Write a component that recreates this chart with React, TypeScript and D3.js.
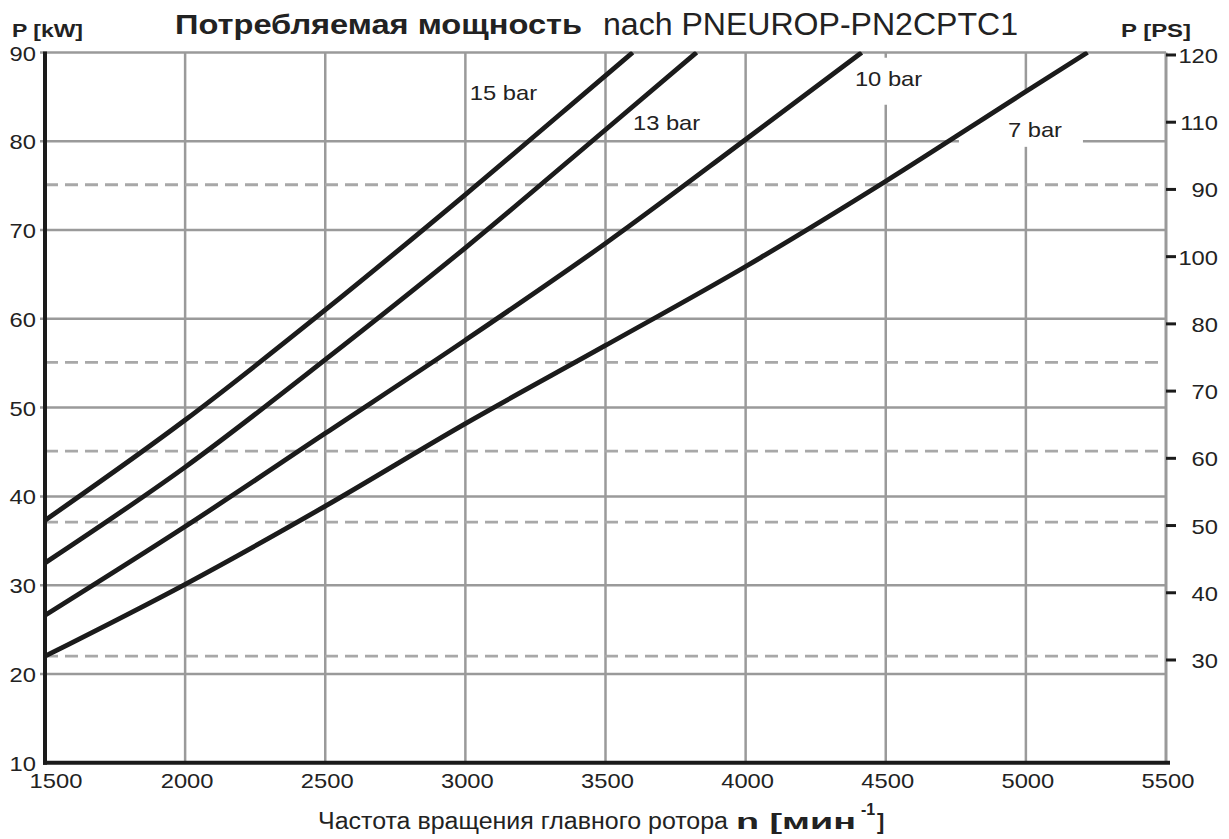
import React from "react";
import * as d3 from "d3";

// ---- data ----
const xTicks = [1500, 2000, 2500, 3000, 3500, 4000, 4500, 5000, 5500];
const kwTicks = [10, 20, 30, 40, 50, 60, 70, 80, 90];
const psTickValues = [120, 110, 100, 90, 80, 70, 60, 50, 40, 30];
const psTickLabels = ["120", "110", "90", "100", "80", "70", "60", "50", "40", "30"];
const dashedKw = [75.1, 55.1, 45.1, 37.1, 22.0];

const rpm7 = [1500, 2000, 2500, 3000, 3500, 4000, 4500, 5000, 5220];
const kw7 = [22.0, 30.1, 38.9, 48.2, 57.0, 65.9, 75.5, 85.6, 90];
const rpm10 = [1500, 2000, 2500, 3000, 3500, 4000, 4414];
const kw10 = [26.6, 36.6, 47.1, 57.6, 68.5, 80.2, 90];
const rpm13 = [1500, 2000, 2500, 3000, 3500, 3825];
const kw13 = [32.5, 43.3, 55.4, 68.0, 81.3, 90];
const rpm15 = [1500, 2000, 2500, 3000, 3500, 3597];
const kw15 = [37.3, 48.6, 61.0, 74.0, 87.4, 90];

const seriesNames = ["15 bar", "13 bar", "10 bar", "7 bar"];
const seriesRpm = [rpm15, rpm13, rpm10, rpm7];
const seriesKw = [kw15, kw13, kw10, kw7];
// label anchor (rpm, kW)
const labelRpm = [3016, 3598, 4390, 4936];
const labelKw = [84.7, 81.3, 86.2, 80.5];

const W = 1229;
const H = 839;
const left = 45;
const right = 1166;
const top = 52.5;
const bottom = 762.7;

const GRID = "#9a9a9a";
const DASH = "#a8a8a8";
const INK = "#1b1b1b";
const FONT = "Arial, 'Liberation Sans', Helvetica, sans-serif";

export default function App() {
  const x = d3.scaleLinear().domain([1500, 5500]).range([left, right]);
  const y = d3.scaleLinear().domain([10, 90]).range([bottom, top]);
  // PS axis positions expressed in kW of the left scale
  const psToKw = d3.scaleLinear().domain([30, 120]).range([21.57, 89.72]);

  const line = d3
    .line<[number, number]>()
    .x((d) => x(d[0]))
    .y((d) => y(d[1]))
    .curve(d3.curveMonotoneX);

  const series = seriesNames.map((name, i) => ({
    name,
    pts: seriesRpm[i].map((r, j) => [r, seriesKw[i][j]] as [number, number]),
    lx: x(labelRpm[i]),
    ly: y(labelKw[i]),
  }));

  const sx = 1.13;

  return (
    <svg
      width={W}
      height={H}
      style={{ position: "absolute", left: 0, top: 0, background: "#fff" }}
      fontFamily={FONT}
    >
      <defs>
        <clipPath id="plot">
          <rect x={left} y={top - 1} width={right - left} height={bottom - top + 1} />
        </clipPath>
      </defs>
      <rect x={0} y={0} width={W} height={H} fill="#fff" />

      {/* vertical grid */}
      {xTicks.slice(1, -1).map((t) => (
        <line key={"vx" + t} x1={x(t)} x2={x(t)} y1={top} y2={bottom} stroke={GRID} strokeWidth={2.5} />
      ))}
      {/* horizontal grid */}
      {kwTicks.slice(1).map((t) => (
        <line key={"hy" + t} x1={left - 5} x2={right} y1={y(t)} y2={y(t)} stroke={GRID} strokeWidth={2.5} />
      ))}
      {/* dashed lines */}
      {dashedKw.map((v) => (
        <line
          key={"d" + v}
          x1={left}
          x2={right}
          y1={y(v)}
          y2={y(v)}
          stroke={DASH}
          strokeWidth={2.8}
          strokeDasharray="13 7"
        />
      ))}

      {/* label backgrounds (gaps in grid) */}
      <rect x={series[2].lx - 5} y={series[2].ly - 28.5} width={80} height={47} fill="#fff" />
      <rect x={series[3].lx - 49} y={series[3].ly - 45} width={124} height={55} fill="#fff" />

      {/* right axis */}
      <line x1={right} x2={right} y1={top} y2={bottom} stroke={GRID} strokeWidth={3} />
      {psTickValues.map((v, i) => {
        const yy = y(psToKw(v));
        return (
          <g key={"ps" + v}>
            <line x1={right} x2={right + 10} y1={yy} y2={yy} stroke={INK} strokeWidth={3} />
            <text
              transform={`translate(${1218},${yy + 8}) scale(${sx},1)`}
              textAnchor="end"
              fontSize={21}
              fill="#222"
            >
              {psTickLabels[i]}
            </text>
          </g>
        );
      })}

      {/* curves */}
      <g clipPath="url(#plot)">
        {series.map((s) => (
          <path key={s.name} d={line(s.pts) || ""} fill="none" stroke={INK} strokeWidth={4.8} strokeLinecap="butt" />
        ))}
      </g>

      {/* series labels */}
      {series.map((s) => (
        <text
          key={"l" + s.name}
          transform={`translate(${s.lx},${s.ly}) scale(${sx},1)`}
          fontSize={21}
          fill="#222"
        >
          {s.name}
        </text>
      ))}

      {/* left & bottom axes */}
      <line x1={left} x2={left} y1={top - 1} y2={bottom + 2} stroke={INK} strokeWidth={4} />
      <line x1={left - 2} x2={right + 4} y1={bottom} y2={bottom} stroke={INK} strokeWidth={4} />

      {/* left tick labels */}
      {kwTicks.map((t) => (
        <text
          key={"kl" + t}
          transform={`translate(${36},${y(t) + 8}) scale(${sx},1)`}
          textAnchor="end"
          fontSize={21}
          fill="#222"
        >
          {t}
        </text>
      ))}
      {/* bottom tick labels */}
      {xTicks.map((t, i) => (
        <text
          key={"xl" + t}
          transform={`translate(${x(t) + (i === 0 ? 11 : 2)},${788}) scale(${sx},1)`}
          textAnchor="middle"
          fontSize={21}
          fill="#222"
        >
          {t}
        </text>
      ))}

      {/* axis titles */}
      <text x={12} y={37} fontSize={19} fontWeight="bold" textLength={71} lengthAdjust="spacingAndGlyphs" fill="#222">
        P [kW]
      </text>
      <text x={1121} y={37} fontSize={19} fontWeight="bold" textLength={70} lengthAdjust="spacingAndGlyphs" fill="#222">
        P [PS]
      </text>

      {/* title */}
      <text x={175} y={34} fontSize={28} fontWeight="bold" textLength={407} lengthAdjust="spacingAndGlyphs" fill="#222">
        Потребляемая мощность
      </text>
      <text x={603} y={35} fontSize={31} textLength={415} lengthAdjust="spacingAndGlyphs" fill="#222">
        nach PNEUROP-PN2CPTC1
      </text>

      {/* x axis title */}
      <text x={318} y={829} fontSize={23} textLength={410} lengthAdjust="spacingAndGlyphs" fill="#222">
        Частота вращения главного ротора
      </text>
      <text x={736} y={829} fontSize={22} fontWeight="bold" textLength={120} lengthAdjust="spacingAndGlyphs" fill="#222">
        n [мин
      </text>
      <text x={861} y={815} fontSize={16} fontWeight="bold" fill="#222">
        -1
      </text>
      <text x={877} y={829} fontSize={22} fontWeight="bold" fill="#222">
        ]
      </text>
    </svg>
  );
}
